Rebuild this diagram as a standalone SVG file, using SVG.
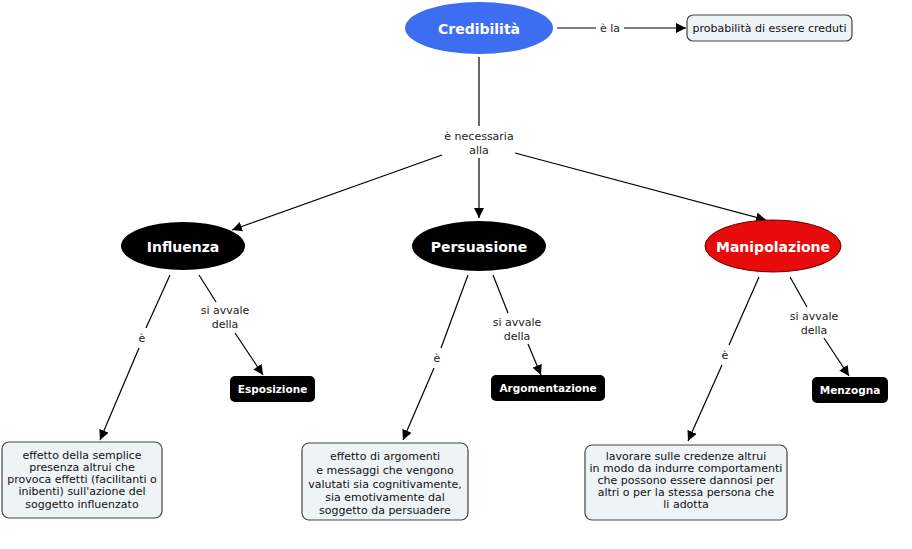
<svg xmlns="http://www.w3.org/2000/svg" width="912" height="549" viewBox="0 0 912 549">
<style>
.lnk{stroke:#000;stroke-width:1.2;fill:none}
.lbl{font-family:"DejaVu Sans",Verdana,sans-serif;font-size:11px;fill:#222;text-anchor:middle}
.box{fill:#eef3f6;stroke:#444;stroke-width:1.2}
.bt{font-family:"DejaVu Sans",Verdana,sans-serif;font-size:11px;fill:#111;text-anchor:middle}
.en{font-family:"DejaVu Sans",Verdana,sans-serif;font-weight:bold;font-size:14px;fill:#fff;text-anchor:middle}
.sn{font-family:"DejaVu Sans",Verdana,sans-serif;font-weight:bold;font-size:10.5px;fill:#fff;text-anchor:middle}
</style>
<defs>
<marker id="ah" viewBox="0 0 10 10" refX="10" refY="5" markerWidth="10" markerHeight="10" markerUnits="userSpaceOnUse" orient="auto"><path d="M0,0 L10,5 L0,10 z" fill="#000"/></marker>
</defs>
<rect width="912" height="549" fill="#fff"/>
<g id="connectors">
<line class="lnk" x1="557" y1="28" x2="596" y2="28"/>
<text class="lbl" x="610" y="32">è la</text>
<line class="lnk" x1="624" y1="28" x2="686" y2="28" marker-end="url(#ah)"/>
<line class="lnk" x1="479" y1="57" x2="479" y2="126"/>
<text class="lbl" x="479" y="140">è necessaria</text>
<text class="lbl" x="479" y="154">alla</text>
<line class="lnk" x1="442" y1="155" x2="232" y2="230" marker-end="url(#ah)"/>
<line class="lnk" x1="479" y1="158" x2="479" y2="218" marker-end="url(#ah)"/>
<line class="lnk" x1="515" y1="153" x2="766" y2="220" marker-end="url(#ah)"/>
<line class="lnk" x1="170" y1="275" x2="146" y2="328"/>
<text class="lbl" x="142" y="342">è</text>
<line class="lnk" x1="139" y1="348" x2="100" y2="440" marker-end="url(#ah)"/>
<line class="lnk" x1="199" y1="275" x2="216" y2="302"/>
<text class="lbl" x="225" y="314">si avvale</text>
<text class="lbl" x="225" y="328">della</text>
<line class="lnk" x1="235" y1="333" x2="263" y2="375" marker-end="url(#ah)"/>
<line class="lnk" x1="468" y1="275" x2="441" y2="348"/>
<text class="lbl" x="437" y="362">è</text>
<line class="lnk" x1="434" y1="368" x2="403" y2="440" marker-end="url(#ah)"/>
<line class="lnk" x1="493" y1="275" x2="508" y2="313"/>
<text class="lbl" x="517" y="326">si avvale</text>
<text class="lbl" x="517" y="340">della</text>
<line class="lnk" x1="528" y1="344" x2="541" y2="375" marker-end="url(#ah)"/>
<line class="lnk" x1="759" y1="277" x2="729" y2="345"/>
<text class="lbl" x="725" y="359">è</text>
<line class="lnk" x1="722" y1="365" x2="688" y2="441" marker-end="url(#ah)"/>
<line class="lnk" x1="790" y1="277" x2="807" y2="307"/>
<text class="lbl" x="814" y="320">si avvale</text>
<text class="lbl" x="814" y="334">della</text>
<line class="lnk" x1="824" y1="338" x2="849" y2="376" marker-end="url(#ah)"/>
</g>
<g id="credibilita">
<ellipse cx="479" cy="28" rx="74" ry="26" fill="#3d6ef2"/>
<text class="en" x="479" y="34">Credibilità</text>
</g>
<g id="probabilita">
<rect class="box" x="687" y="15" width="165" height="26" rx="6"/>
<text class="bt" x="769.5" y="32">probabilità di essere creduti</text>
</g>
<g id="influenza">
<ellipse cx="183" cy="246" rx="62" ry="24" fill="#000"/>
<text class="en" x="183" y="252">Influenza</text>
</g>
<g id="persuasione">
<ellipse cx="479" cy="246" rx="67" ry="25" fill="#000"/>
<text class="en" x="479" y="252">Persuasione</text>
</g>
<g id="manipolazione">
<ellipse cx="773" cy="246" rx="68" ry="26" fill="#e80b0b" stroke="#600" stroke-width="1"/>
<text class="en" x="773" y="252">Manipolazione</text>
</g>
<g id="esposizione">
<rect x="230" y="376" width="85" height="26" rx="5" fill="#000"/>
<text class="sn" x="272.5" y="393">Esposizione</text>
</g>
<g id="argomentazione">
<rect x="491" y="375" width="114" height="26" rx="5" fill="#000"/>
<text class="sn" x="548" y="392">Argomentazione</text>
</g>
<g id="menzogna">
<rect x="812" y="377" width="76" height="26" rx="5" fill="#000"/>
<text class="sn" x="850" y="394">Menzogna</text>
</g>
<g id="def-influenza">
<rect class="box" x="2" y="442" width="160" height="76" rx="7"/>
<text class="bt" x="82" y="459">effetto della semplice</text>
<text class="bt" x="82" y="471">presenza altrui che</text>
<text class="bt" x="82" y="483">provoca effetti (facilitanti o</text>
<text class="bt" x="82" y="495">inibenti) sull'azione del</text>
<text class="bt" x="82" y="508">soggetto influenzato</text>
</g>
<g id="def-persuasione">
<rect class="box" x="302" y="443" width="166" height="77" rx="7"/>
<text class="bt" x="385" y="460">effetto di argomenti</text>
<text class="bt" x="385" y="474">e messaggi che vengono</text>
<text class="bt" x="385" y="488">valutati sia cognitivamente,</text>
<text class="bt" x="385" y="501">sia emotivamente dal</text>
<text class="bt" x="385" y="514">soggetto da persuadere</text>
</g>
<g id="def-manipolazione">
<rect class="box" x="585" y="445" width="202" height="75" rx="7"/>
<text class="bt" x="686" y="460">lavorare sulle credenze altrui</text>
<text class="bt" x="686" y="472">in modo da indurre comportamenti</text>
<text class="bt" x="686" y="484">che possono essere dannosi per</text>
<text class="bt" x="686" y="496">altri o per la stessa persona che</text>
<text class="bt" x="686" y="508">li adotta</text>
</g>
</svg>
